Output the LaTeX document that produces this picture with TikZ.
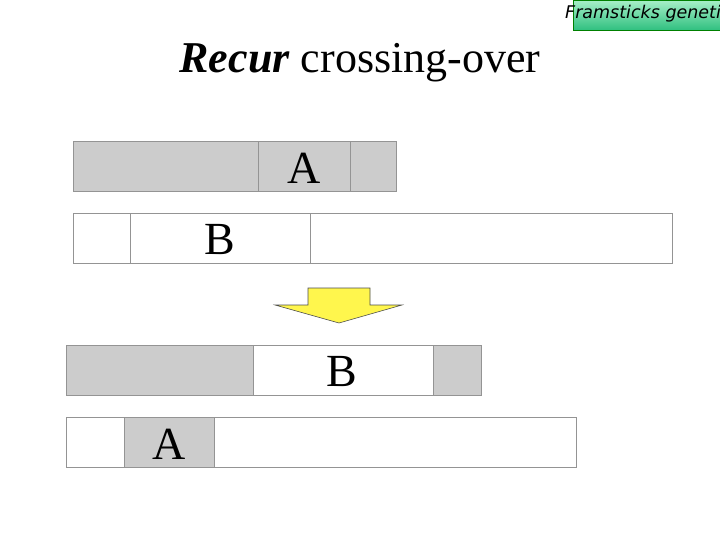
\documentclass[tikz,border=0pt]{standalone}
\usepackage{fontspec}
\setmainfont{Liberation Serif}
\newfontfamily\labfont{DejaVu Sans}
\definecolor{gtop}{HTML}{A8F0C8}
\definecolor{gbot}{HTML}{30C080}
\begin{document}
\begin{tikzpicture}[x=1pt,y=-1pt,
  seg/.style={draw=black!42,line width=1.4pt},
  gseg/.style={seg,fill=black!20},
  wseg/.style={seg,fill=white},
  big/.style={font=\fontsize{46}{46}\selectfont,inner sep=0pt}]
\useasboundingbox (0,0) rectangle (720,540);
\begin{scope}
\clip (0,0) rectangle (720,540);
\shade[top color=gtop,bottom color=gbot,draw=green!50!black] (573,0) rectangle (722,30);
\node[anchor=west,inner sep=0pt,font=\labfont\itshape\fontsize{17.5}{17.5}\selectfont] (lab) at (565,14) {Framsticks genetic};
\end{scope}
\node[font=\fontsize{44}{44}\selectfont] (title) at (360,63) {\textbf{\textit{Recur}} crossing-over};
% row 1
\node[gseg,minimum width=185,minimum height=50,anchor=north west,inner sep=0] (r1a) at (73,141) {};
\node[gseg,minimum width=92,minimum height=50,anchor=north west,inner sep=0] (r1b) at (258,141) {};
\node[gseg,minimum width=46,minimum height=50,anchor=north west,inner sep=0] (r1c) at (350,141) {};
\node[big] at (304,168) {A};
% row 2
\node[wseg,minimum width=57,minimum height=50,anchor=north west,inner sep=0] (r2a) at (73,213) {};
\node[wseg,minimum width=180,minimum height=50,anchor=north west,inner sep=0] (r2b) at (130,213) {};
\node[wseg,minimum width=362,minimum height=50,anchor=north west,inner sep=0] (r2c) at (310,213) {};
\node[big] at (220,240) {B};
% arrow
\draw[draw=black!70,fill=yellow!70!white,line width=0.6pt] (308,288) -- (370,288) -- (370,305) -- (402,305) -- (339,323) -- (275,305) -- (308,305) -- cycle;
% row 3
\node[gseg,minimum width=187,minimum height=50,anchor=north west,inner sep=0] (r3a) at (66,345) {};
\node[wseg,minimum width=180,minimum height=50,anchor=north west,inner sep=0] (r3b) at (253,345) {};
\node[gseg,minimum width=48,minimum height=50,anchor=north west,inner sep=0] (r3c) at (433,345) {};
\node[big] at (342,372) {B};
% row 4
\node[wseg,minimum width=58,minimum height=50,anchor=north west,inner sep=0] (r4a) at (66,417) {};
\node[gseg,minimum width=90,minimum height=50,anchor=north west,inner sep=0] (r4b) at (124,417) {};
\node[wseg,minimum width=362,minimum height=50,anchor=north west,inner sep=0] (r4c) at (214,417) {};
\node[big] at (169,444) {A};
\end{tikzpicture}
\end{document}
